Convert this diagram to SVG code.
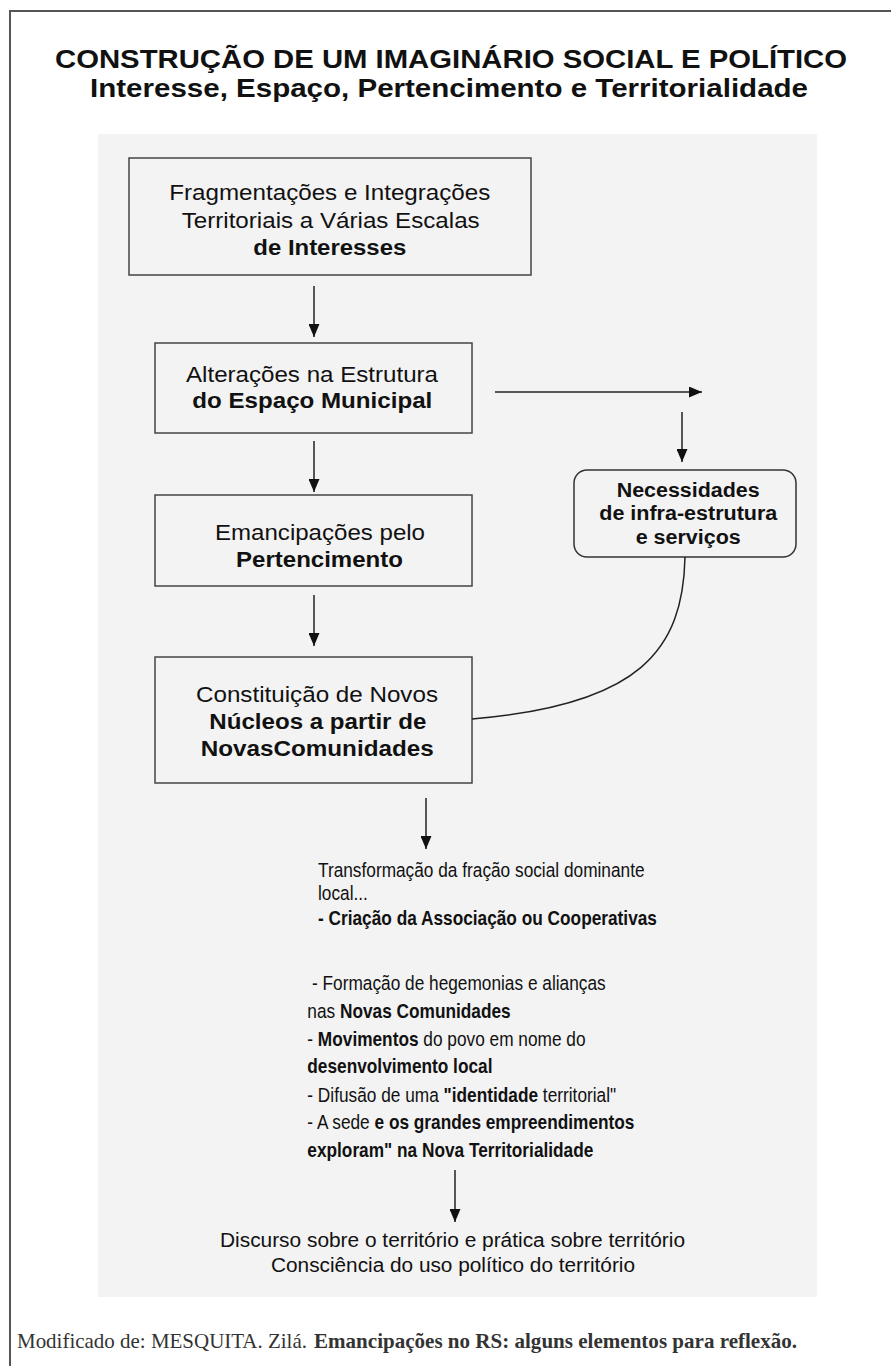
<svg xmlns="http://www.w3.org/2000/svg" width="891" height="1366" viewBox="0 0 891 1366">
<defs>
<marker id="ah" markerUnits="userSpaceOnUse" markerWidth="13" markerHeight="11" refX="13" refY="5.5" orient="auto">
<path d="M0,0 L13,5.5 L0,11 z" fill="#111"/>
</marker>
<style>
text{font-family:"Liberation Sans",Arial,sans-serif;fill:#111}
.t{font-weight:bold;font-size:26.5px}
.t2{font-weight:bold;font-size:25px}
.bx{font-size:22px}
.b{font-weight:bold}
.rb{font-size:20px;font-weight:bold}
.blk{font-size:19.5px}
.bot{font-size:19.5px}
.foot{font-family:"Liberation Serif","Times New Roman",serif;font-size:22px;fill:#333}
.box{fill:none;stroke:#444;stroke-width:1.5}
.con line,.con path{stroke:#222;stroke-width:1.5;fill:none}
</style>
</defs>
<rect x="0" y="0" width="891" height="1366" fill="#fff"/>
<path d="M10,1366 L10,11 L891,11" fill="none" stroke="#555" stroke-width="2"/>
<rect x="98" y="134" width="719" height="1163" fill="#f3f3f3"/>

<g id="title">
<text class="t" x="55" y="68" textLength="792" lengthAdjust="spacingAndGlyphs">CONSTRUÇÃO DE UM IMAGINÁRIO SOCIAL E POLÍTICO</text>
<text class="t2" x="90" y="97" textLength="718" lengthAdjust="spacingAndGlyphs">Interesse, Espaço, Pertencimento e Territorialidade</text>
</g>

<g id="n1">
<rect class="box" x="129" y="158" width="402" height="117"/>
<text class="bx" x="169.3" y="200" textLength="321" lengthAdjust="spacingAndGlyphs">Fragmentações e Integrações</text>
<text class="bx" x="181.7" y="228" textLength="298" lengthAdjust="spacingAndGlyphs">Territoriais a Várias Escalas</text>
<text class="bx b" x="253.3" y="255" textLength="153" lengthAdjust="spacingAndGlyphs">de Interesses</text>
</g>

<g id="n2">
<rect class="box" x="155" y="343" width="317" height="90"/>
<text class="bx" x="186" y="382" textLength="252" lengthAdjust="spacingAndGlyphs">Alterações na Estrutura</text>
<text class="bx b" x="192.3" y="408" textLength="240" lengthAdjust="spacingAndGlyphs">do Espaço Municipal</text>
</g>

<g id="n3">
<rect class="box" x="155" y="495" width="317" height="91"/>
<text class="bx" x="215" y="540" textLength="210" lengthAdjust="spacingAndGlyphs">Emancipações pelo</text>
<text class="bx b" x="236" y="567" textLength="167" lengthAdjust="spacingAndGlyphs">Pertencimento</text>
</g>

<g id="n4">
<rect class="box" x="155" y="657" width="317" height="126"/>
<text class="bx" x="196" y="702" textLength="242" lengthAdjust="spacingAndGlyphs">Constituição de Novos</text>
<text class="bx b" x="209.3" y="729" textLength="217" lengthAdjust="spacingAndGlyphs">Núcleos a partir de</text>
<text class="bx b" x="200.7" y="756" textLength="233" lengthAdjust="spacingAndGlyphs">NovasComunidades</text>
</g>

<g id="n5">
<rect x="574" y="470" width="222" height="87" rx="13" ry="13" fill="#f3f3f3" stroke="#333" stroke-width="1.5"/>
<text class="rb" x="616.7" y="497" textLength="143" lengthAdjust="spacingAndGlyphs">Necessidades</text>
<text class="rb" x="599.3" y="520" textLength="178" lengthAdjust="spacingAndGlyphs">de infra-estrutura</text>
<text class="rb" x="635.7" y="544" textLength="105" lengthAdjust="spacingAndGlyphs">e serviços</text>
</g>

<g id="n6">
<text class="blk" transform="translate(318,877) scale(0.886,1)">Transformação da fração social dominante</text>
<text class="blk" transform="translate(318,900) scale(0.886,1)">local...</text>
<text class="blk b" transform="translate(318,925) scale(0.886,1)">- Criação da Associação ou Cooperativas</text>
</g>

<g id="n7">
<text class="blk" transform="translate(312,990) scale(0.886,1)">- Formação de hegemonias e alianças</text>
<text class="blk" transform="translate(307.3,1018) scale(0.886,1)">nas <tspan class="b">Novas Comunidades</tspan></text>
<text class="blk" transform="translate(307.3,1046) scale(0.886,1)">- <tspan class="b">Movimentos</tspan> do povo em nome do</text>
<text class="blk b" transform="translate(307.3,1073) scale(0.886,1)">desenvolvimento local</text>
<text class="blk" transform="translate(307.3,1102) scale(0.886,1)">- Difusão de uma <tspan class="b">"identidade</tspan> territorial"</text>
<text class="blk" transform="translate(307.3,1129) scale(0.886,1)">- A sede <tspan class="b">e os grandes empreendimentos</tspan></text>
<text class="blk b" transform="translate(307.3,1157) scale(0.886,1)">exploram" na Nova Territorialidade</text>
</g>

<g id="n8">
<text class="bot" x="220" y="1247" textLength="465" lengthAdjust="spacingAndGlyphs">Discurso sobre o território e prática sobre território</text>
<text class="bot" x="271" y="1272" textLength="364" lengthAdjust="spacingAndGlyphs">Consciência do uso político do território</text>
</g>

<g id="connectors" class="con">
<line x1="314" y1="286" x2="314" y2="337" marker-end="url(#ah)"/>
<line x1="314" y1="441" x2="314" y2="492" marker-end="url(#ah)"/>
<line x1="314" y1="595" x2="314" y2="646" marker-end="url(#ah)"/>
<line x1="495" y1="392" x2="702" y2="392" marker-end="url(#ah)"/>
<line x1="682" y1="412" x2="682" y2="462" marker-end="url(#ah)"/>
<path d="M685,557 C683,650 640,705 472,719"/>
<line x1="426" y1="798" x2="426" y2="849" marker-end="url(#ah)"/>
<line x1="455" y1="1170" x2="455" y2="1222" marker-end="url(#ah)"/>
</g>

<g id="footer">
<text class="foot" x="17" y="1348" textLength="290" lengthAdjust="spacingAndGlyphs">Modificado de: MESQUITA. Zilá.</text>
<text class="foot" x="314" y="1348" textLength="483" lengthAdjust="spacingAndGlyphs" font-weight="bold">Emancipações no RS: alguns elementos para reflexão.</text>
</g>
</svg>
